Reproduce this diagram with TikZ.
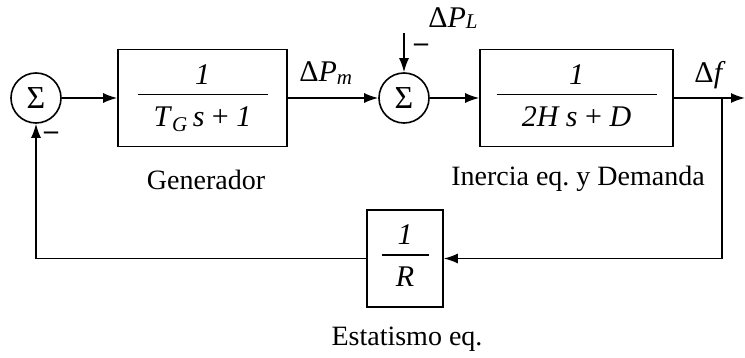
\documentclass[tikz,border=0pt]{standalone}
\usepackage{fontspec}
\setmainfont{Liberation Serif}
\usetikzlibrary{arrows.meta,calc}

\newcommand{\blockfrac}[3]{%
  \begin{tabular}{@{}c@{}}#1\\[-15pt]\rule[10pt]{#3}{1.4pt}\\[-15pt]#2\end{tabular}}

\tikzset{
  block/.style={draw, line width=1.6pt, minimum width=#1, minimum height=97pt,
    inner sep=0pt, font=\fontsize{30}{36}\selectfont},
  block/.default=170pt,
  sumnode/.style={draw, circle, line width=1.6pt, minimum size=50pt,
    inner sep=0pt, font=\fontsize{32}{34}\selectfont},
  signal/.style={line width=1.6pt, -{Latex[length=14pt,width=10pt]}},
  caption/.style={font=\fontsize{28}{32}\selectfont},
  siglabel/.style={font=\fontsize{30}{34}\selectfont, inner sep=0pt},
  sign/.style={font=\fontsize{28}{30}\selectfont\bfseries, inner sep=0pt},
}

\begin{document}
\frenchspacing
\begin{tikzpicture}[x=1pt, y=-1pt, line width=1.6pt]
  \useasboundingbox (0,0) rectangle (745,358);

  % Summing points and blocks
  \node[sumnode] (S1) at (36,98) {Σ};
  \node[block=169pt] (G) at (202.5,98)
    {\blockfrac{\textit{1}}{\textit{T}\textsubscript{\textit{G}}\,\textit{s} + \textit{1}}{130pt}};
  \node[sumnode] (S2) at (404,98) {Σ};
  \node[block=193pt] (F) at (576.5,98)
    {\blockfrac{\textit{1}}{\textit{2H s} + \textit{D}}{160pt}};
  \node[block=76pt] (R) at (405,258.5)
    {\blockfrac{\textit{1}}{\textit{R}}{47pt}};

  % Free ends
  \coordinate (out) at (745,98);
  \coordinate (tap) at (722,98);
  \coordinate (load) at (404,33);

  % Forward path
  \draw[signal] (S1) -- (G);
  \draw[signal] (G) -- (S2);
  \draw[signal] (S2) -- (F);
  \draw[signal] (F) -- (out);
  \draw[signal] (load) -- (S2);

  % Feedback path
  \draw[signal] (tap) |- (R);
  \draw[signal] (R) -| (S1);

  % Signal labels
  \node[siglabel] (dPm) at (326,73) {Δ\textit{P}\textsubscript{\textit{m}}};
  \node[siglabel] (dPL) at (453,18) {Δ\textit{P}\raisebox{-1pt}{\fontsize{21}{24}\selectfont\textit{L}}};
  \node[siglabel] (df) at (710,75) {Δ\textit{f}};
  \node[sign] (m1) at (51,136) {–};
  \node[sign] (m2) at (421,48) {–};

  % Block names
  \node[caption] (gen) at (206,180) {Generador};
  \node[caption] (dem) at (578,179) {Inercia eq. y Demanda};
  \node[caption] (est) at (407,339) {Estatismo eq.};

\end{tikzpicture}
\end{document}
